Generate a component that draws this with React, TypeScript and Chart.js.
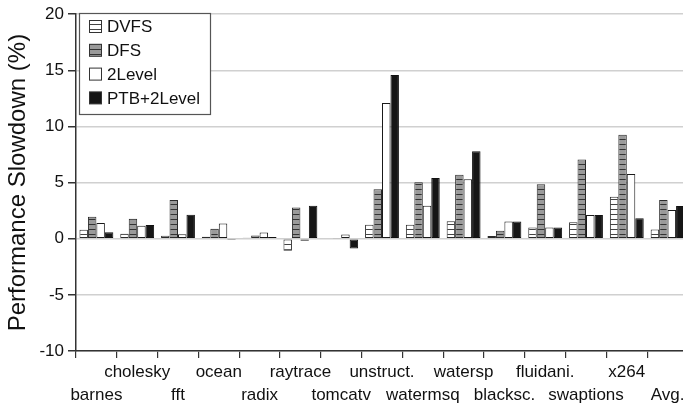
import React, { useEffect, useRef } from "react";
import { Chart, registerables } from "chart.js";

Chart.register(...registerables);

const categories = ["barnes", "cholesky", "fft", "ocean", "radix", "raytrace", "tomcatv", "unstruct.", "watermsq", "watersp", "blacksc.", "fluidani.", "swaptions", "x264", "Avg."];
const seriesNames = ["DVFS", "DFS", "2Level", "PTB+2Level"];
const dvfs = [0.8, 0.44, 0.26, 0.18, 0.09, -1.06, 0.06, 1.24, 1.24, 1.55, 0.24, 1.0, 1.47, 3.73, 0.82];
const dfs = [1.95, 1.79, 3.44, 0.88, 0.29, 2.79, 0.05, 4.41, 5.03, 5.7, 0.7, 4.85, 7.06, 9.26, 3.44];
const twoLevel = [1.41, 1.15, 0.41, 1.35, 0.56, -0.18, 0.38, 12.09, 2.94, 5.3, 1.53, 1.0, 2.12, 5.76, 2.56];
const ptb = [0.58, 1.23, 2.14, -0.12, 0.15, 2.94, -0.86, 14.59, 5.41, 7.79, 1.53, 1.0, 2.12, 1.82, 2.91];
const yTicks = { min: -10, max: 20, step: 5 };
const yTitle = "Performance Slowdown (%)";

const FONT = "Arial, 'Liberation Sans', sans-serif";

function makePattern(bg: string, line: string) {
  const c = document.createElement("canvas");
  c.width = 8;
  c.height = 5;
  const x = c.getContext("2d")!;
  x.fillStyle = bg;
  x.fillRect(0, 0, 8, 5);
  x.fillStyle = line;
  x.fillRect(0, 4, 8, 1);
  return x.createPattern(c, "repeat")!;
}

const legendPlugin = {
  id: "boxLegend",
  afterDraw(chart: any) {
    const ctx = chart.ctx;
    const x0 = 79.5, y0 = 13.5, w = 131, h = 101;
    ctx.save();
    ctx.fillStyle = "#fff";
    ctx.fillRect(x0, y0, w, h);
    ctx.strokeStyle = "#555";
    ctx.lineWidth = 1.2;
    ctx.strokeRect(x0, y0, w, h);
    ctx.font = `17px ${FONT}`;
    ctx.textBaseline = "middle";
    chart.data.datasets.forEach((ds: any, i: number) => {
      const cy = 26.5 + i * 23.8;
      ctx.fillStyle = ds.backgroundColor;
      ctx.fillRect(89.5, cy - 6, 12, 12);
      ctx.strokeStyle = "#333";
      ctx.lineWidth = 1;
      ctx.strokeRect(89.5, cy - 6, 12, 12);
      ctx.fillStyle = "#111";
      ctx.fillText(ds.label, 107, cy + 1);
    });
    ctx.restore();
  },
};

export default function App() {
  const ref = useRef<HTMLCanvasElement>(null);
  useEffect(() => {
    const pDvfs = makePattern("#ffffff", "#444");
    const pDfs = makePattern("#9a9a9a", "#333");
    const labels = categories.map((c, i) => (i % 2 === 0 ? ["", c] : [c, ""]));
    const chart = new Chart(ref.current!, {
      type: "bar",
      data: {
        labels,
        datasets: [
          { label: seriesNames[0], data: dvfs, backgroundColor: pDvfs as any, borderColor: "#2a2a2a", borderWidth: 1, borderSkipped: false },
          { label: seriesNames[1], data: dfs, backgroundColor: pDfs as any, borderColor: "#2a2a2a", borderWidth: 1, borderSkipped: false },
          { label: seriesNames[2], data: twoLevel, backgroundColor: "#ffffff", borderColor: "#1a1a1a", borderWidth: 1, borderSkipped: false },
          { label: seriesNames[3], data: ptb, backgroundColor: "#161616", borderColor: "#111", borderWidth: 1, borderSkipped: false },
        ],
      },
      options: {
        animation: false,
        responsive: false,
        maintainAspectRatio: false,
        layout: { padding: { top: 11, right: 12, left: 0, bottom: 0 } },
        plugins: { legend: { display: false }, tooltip: { enabled: false } },
        datasets: { bar: { categoryPercentage: 0.83, barPercentage: 1.0 } },
        scales: {
          x: {
            grid: { display: true, drawOnChartArea: false, offset: true, tickLength: 7, tickColor: "#333", lineWidth: 1.2 },
            border: { display: true, color: "#333", width: 1.5 },
            ticks: { autoSkip: false, maxRotation: 0, minRotation: 0, padding: 3, color: "#111", font: { family: FONT, size: 17, lineHeight: 1.35 } },
            afterFit: (s: any) => { s.height = 59; },
          },
          y: {
            min: yTicks.min,
            max: yTicks.max,
            ticks: { stepSize: yTicks.step, color: "#111", padding: 4, font: { family: FONT, size: 17 } },
            grid: { color: "#d0d0d0", lineWidth: 1.5, tickLength: 8, tickColor: "#333" },
            border: { display: true, color: "#333", width: 1.5 },
            title: { display: true, text: yTitle, color: "#111", padding: { top: 4, bottom: 0 }, font: { family: FONT, size: 24 } },
            afterFit: (s: any) => { s.width = 76; },
          },
        },
      },
      plugins: [legendPlugin],
    });
    return () => chart.destroy();
  }, []);
  return (
    <div style={{ position: "fixed", left: 0, top: 0, width: 700, height: 410, background: "#fff" }}>
      <canvas ref={ref} width={700} height={410} style={{ display: "block" }} />
    </div>
  );
}
